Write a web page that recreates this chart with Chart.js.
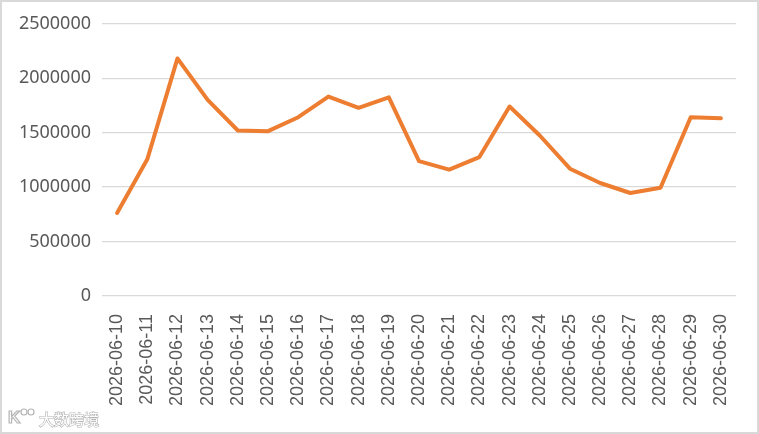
<!DOCTYPE html>
<html>
<head>
<meta charset="utf-8">
<script src="https://cdn.jsdelivr.net/npm/chart.js@4"></script>
<style>
  html, body { margin: 0; padding: 0; background: #fff; }
  #wrap {
    position: absolute; left: 0; top: 0;
    width: 759px; height: 434px;
    box-sizing: border-box;
    border: 2px solid #d9d9d9;
    background: #fff;
  }
  canvas { display: block; }
</style>
</head>
<body>
<div id="wrap"><canvas id="salesChart" width="755" height="430"></canvas></div>
<script>
// Daily values, 2026-06-10 .. 2026-06-30
const dates = [
    '2026-06-10', '2026-06-11', '2026-06-12', '2026-06-13', '2026-06-14',
    '2026-06-15', '2026-06-16', '2026-06-17', '2026-06-18', '2026-06-19',
    '2026-06-20', '2026-06-21', '2026-06-22', '2026-06-23', '2026-06-24',
    '2026-06-25', '2026-06-26', '2026-06-27', '2026-06-28', '2026-06-29',
    '2026-06-30'
];
const values = [
    763000, 1255000, 2182000, 1801000, 1520000,
    1514000, 1642000, 1832000, 1728000, 1825000,
    1239000, 1160000, 1276000, 1740000, 1474000,
    1169000, 1038000, 946000, 995000, 1642000,
    1633000
];
const yTicks = [0, 500000, 1000000, 1500000, 2000000, 2500000];

const textColor = '#595959';
const gridColor = '#d9d9d9';

// little watermark in the bottom-left corner
const watermark = {
    id: 'watermark',
    afterDraw(chart) {
        const c = chart.ctx;
        c.save();
        c.strokeStyle = '#b4b4b4';
        c.fillStyle = '#ffffff';
        c.lineWidth = 1.2;
        c.textBaseline = 'middle';
        c.font = 'bold 17px "Liberation Sans", Arial, sans-serif';
        c.strokeText('K', 6, 416);
        c.beginPath();
        c.arc(22, 410, 3, 0, Math.PI * 2);
        c.stroke();
        c.beginPath();
        c.arc(29, 410, 3, 0, Math.PI * 2);
        c.stroke();
        c.font = '15px "Noto Sans CJK SC", sans-serif';
        c.strokeText('大数跨境', 37, 417);
        c.fillText('大数跨境', 37, 417);
        c.restore();
    }
};

const ctx = document.getElementById('salesChart').getContext('2d');
new Chart(ctx, {
    type: 'line',
    data: {
        labels: dates,
        datasets: [{
            data: values,
            borderColor: '#ED7D31',
            backgroundColor: '#ED7D31',
            borderWidth: 4,
            pointRadius: 0,
            tension: 0,
            borderCapStyle: 'round',
            borderJoinStyle: 'round'
        }]
    },
    options: {
        responsive: false,
        animation: false,
        layout: { padding: { left: 0, right: 21, top: 21, bottom: 0 } },
        plugins: {
            legend: { display: false },
            tooltip: { enabled: false }
        },
        scales: {
            x: {
                offset: true,
                grid: { display: false },
                border: { display: false },
                ticks: {
                    color: textColor,
                    font: { family: '"Liberation Sans", Arial, sans-serif', size: 18 },
                    minRotation: 90,
                    maxRotation: 90,
                    autoSkip: false,
                    padding: 10
                },
                afterFit(scale) { scale.height = 136; }
            },
            y: {
                min: 0,
                max: 2500000,
                afterBuildTicks(scale) {
                    scale.ticks = yTicks.map(v => ({ value: v }));
                },
                grid: { color: gridColor, lineWidth: 1.3, drawTicks: false },
                border: { display: false },
                ticks: {
                    color: textColor,
                    font: { family: '"Noto Sans", "Open Sans", sans-serif', size: 18 },
                    padding: 11,
                    callback: v => String(v)
                },
                afterFit(scale) { scale.width = 100; }
            }
        }
    },
    plugins: [watermark]
});
</script>
</body>
</html>
